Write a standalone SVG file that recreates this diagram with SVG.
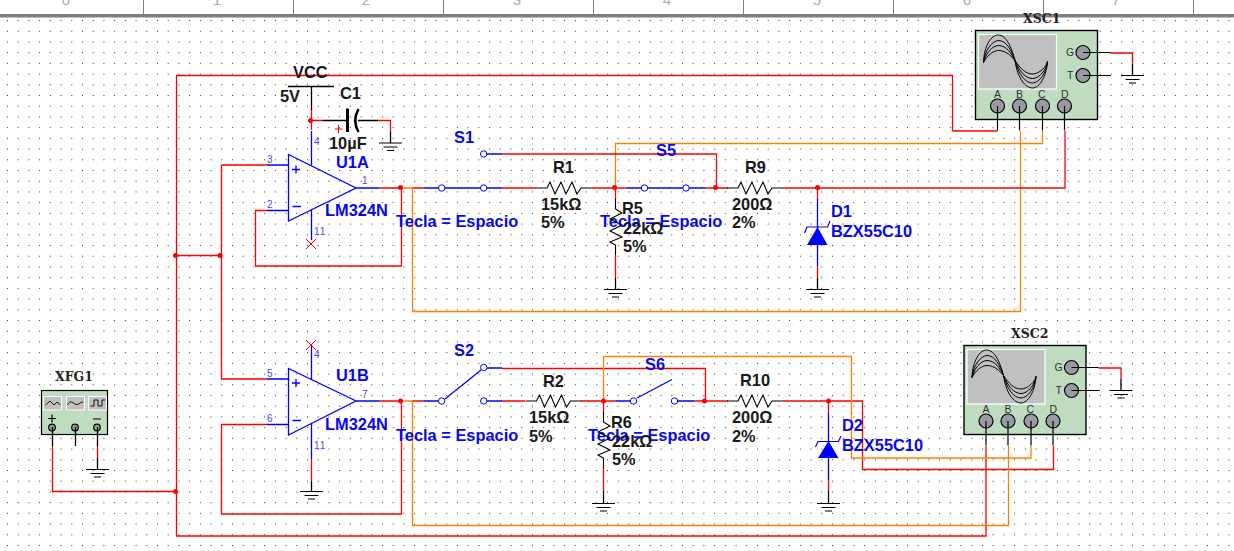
<svg xmlns="http://www.w3.org/2000/svg" width="1234" height="551" viewBox="0 0 1234 551">
<style>
.w{fill:none;stroke-width:1.3}
.r{stroke:#f00}.o{stroke:#ff8000}.k{stroke:#000}.b{stroke:#00f}
.l{font-family:"Liberation Sans",Arial,sans-serif;font-size:16.4px;font-weight:bold}
.kt{fill:#1a1a1a}.bt{fill:#0808f0}
.p{font-family:"Liberation Sans",Arial,sans-serif;font-size:10px;fill:#4a4af0}
.t{font-family:"Liberation Sans",Arial,sans-serif;font-size:10.5px;fill:#333}
.x{font-family:"DejaVu Serif",serif;font-size:12.5px;font-weight:bold;fill:#222}
.rul{font-family:"Liberation Sans",Arial,sans-serif;font-size:15px;fill:#aaa;text-anchor:middle}
.n{fill:#f00}
.tm{fill:#9a9aa2;stroke:#000;stroke-width:1.2}
</style>
<defs>
<pattern id="grid" x="7" y="9.3" width="10.714" height="10.714" patternUnits="userSpaceOnUse"><rect width="1" height="1" fill="#333"/></pattern>
<g id="gnd" fill="none" stroke="#000" stroke-width="1.2"><path d="M-11.500 0H11.500M-7 4H7M-3.500 7.500H3.500"/></g>
<path id="res" d="M0 0H11L14 -6L19 6L25 -6L30 6L36 -6L41 6L45 0H56" fill="none" stroke="#000" stroke-width="1.1"/>
<path id="resv" d="M0 0V10L6.500 14L-5.500 20L6.500 26L-5.500 32L6.500 38L-5.500 43L0 46V56" fill="none" stroke="#000" stroke-width="1.1"/>
<g id="scopeBody">
<rect x="0" y="0" width="122" height="89" fill="#c0dcc0" stroke="#000" stroke-width="1.400"/>
<rect x="3" y="4" width="78" height="54.500" fill="#c0c0c0" stroke="#fff" stroke-width="1.200"/>
<g fill="none" stroke="#000" stroke-width="1">
<path d="M8 32C8.500 15 16 4.500 22.500 4.500C31 4.500 36 17 39.500 30"/>
<path d="M8 32C9 20 17 10 23 10C31 10 36 20 39.500 30"/>
<path d="M8 32C10 23 17 15 23 15C31 15 36 23 39.500 30"/>
<path d="M8 32C11 26 17 20 23 20C31 20 36 26 39.500 30"/>
<path d="M39.500 30C42 48 50 57.500 57 57.500C64 57.500 71 46 72 31"/>
<path d="M39.500 30C43 44 50 52.500 57 52.500C64 52.500 71 42 72 31"/>
<path d="M39.500 30C44 41 50 48 57 48C64 48 71 39 72 31"/>
<path d="M39.500 30C45 38 50 43.500 57 43.500C64 43.500 71 36 72 31"/>
</g>
<circle class="tm" cx="22" cy="75.500" r="7"/><circle class="tm" cx="44" cy="75.500" r="7"/><circle class="tm" cx="67" cy="75.500" r="7"/><circle class="tm" cx="89" cy="75.500" r="7"/>
<circle class="tm" cx="107.500" cy="22" r="7"/><circle class="tm" cx="107.500" cy="45" r="7"/>
<path d="M22 75.500V100M44 75.500V100M67 75.500V100M89 75.500V100M107.500 22H134.500M107.500 45H135.500" stroke="#000" stroke-width="1.200" fill="none"/>
</g>
</defs>
<rect width="1234" height="551" fill="#fff"/>
<rect x="0" y="18" width="1234" height="533" fill="url(#grid)"/>

<g id="ruler">
<text class="rul" x="66" y="5">0</text><text class="rul" x="217" y="5">1</text><text class="rul" x="366" y="5">2</text><text class="rul" x="517" y="5">3</text><text class="rul" x="667" y="5">4</text><text class="rul" x="817" y="5">5</text><text class="rul" x="967" y="5">6</text><text class="rul" x="1116" y="5">7</text>
<rect x="0" y="14" width="1234" height="3.500" fill="#808080"/>
<path d="M143.500 0V14M293.500 0V14M443.500 0V14M593.500 0V14M743.500 0V14M893.500 0V14M1043.500 0V14M1193.500 0V14" stroke="#808080" stroke-width="1"/>
</g>

<g id="connectors">
<path class="w r" d="M952.500 131V75.500H176.500V536H986V446M952.500 131H997.500"/>
<path class="w r" d="M176 255.500H221M221.500 165V379H267M221.500 165H267"/>
<path class="w r" d="M52.500 446V491.500H176M97.500 446V458"/>
<path class="w r" d="M401.500 188V266H255.500V210.500H267"/>
<path class="w r" d="M379 188H402M412.500 188H424"/>
<path class="w o" d="M402 188H412.500V311.500H1020.500V131"/>
<path class="w o" d="M615.500 188V143.500H1042.500V131"/>
<path class="w r" d="M502 188H536M592 188H627M706 188H728M783 188H1065V131M502 154H716.500V188"/>
<path class="w r" d="M615.500 188V199M615.500 255V278M817.500 188V199M817.500 266V278"/>
<path class="w r" d="M311.500 110V130M311 120.500H323M378 120.500H390.500V132"/>
<path class="w r" d="M1110 53H1132.500V64M1098.500 368H1121V379"/>
<path class="w r" d="M379 401H402M412.500 401H424M502 401H525M581 401H615.500M694 401H728M783 401H862.500V469.500H1053.500V446M502 368.500H705.500V401"/>
<path class="w r" d="M267 424.500H221.500V514H401.500V401"/>
<path class="w r" d="M603.500 401V413M603.500 468V491M828.500 401V413M828.500 480V491M311.500 459V481"/>
<path class="w o" d="M402 401H412.500V525.500H1008.500V446"/>
<path class="w o" d="M603.500 401V356.500H851.500V458H1031V446"/>
<circle class="n" cx="175.500" cy="255.500" r="2.500"/><circle class="n" cx="220" cy="255.500" r="2.500"/><circle class="n" cx="175.500" cy="491.500" r="2.500"/>
<circle class="n" cx="310.500" cy="120.500" r="2.500"/><circle class="n" cx="400.500" cy="187.500" r="2.500"/><circle class="n" cx="400.500" cy="401" r="2.500"/>
<circle class="n" cx="614.500" cy="187.500" r="2.500"/><circle class="n" cx="715.500" cy="187.500" r="2.500"/><circle class="n" cx="817.500" cy="187.500" r="2.500"/>
<circle class="n" cx="603.500" cy="401" r="2.500"/><circle class="n" cx="704.500" cy="401" r="2.500"/><circle class="n" cx="828.500" cy="401" r="2.500"/>
</g>

<g id="VCC">
<path class="w k" d="M288 86.500H334M311.500 86.500V110"/>
<text class="l kt" x="293" y="78">VCC</text><text class="l kt" x="280" y="102">5V</text>
</g>
<g id="C1">
<path d="M323 120.500H346M358 120.500H378" class="w k"/>
<path d="M347.500 108.500V132" fill="none" stroke="#000" stroke-width="3"/>
<path d="M358.500 109Q352 120.500 358.500 132" fill="none" stroke="#000" stroke-width="2.500"/>
<path d="M335 129H342.500M338.500 125V133" stroke="#f00" stroke-width="1" fill="none"/>
<path d="M390.500 132V143" class="w k"/><use href="#gnd" x="390.500" y="143"/>
<text class="l kt" x="340" y="99">C1</text><text class="l kt" x="329" y="149">10µF</text>
</g>
<g id="U1A">
<path class="w b" d="M288.500 154.500V221L356 188ZM267 165H288.500M267 210.500H288.500M356 188H379M311.500 131V165M311.500 210V240M292 169.500H300M296 165.500V173.500M292.500 206.500H301"/>
<path d="M306 239L316 249M316 239L306 249" stroke="#f00" stroke-width="1" fill="none"/>
<text class="p" x="267" y="163">3</text><text class="p" x="267" y="208">2</text><text class="p" x="362" y="184">1</text><text class="p" x="314" y="145">4</text><text class="p" x="314" y="235" letter-spacing="1">11</text>
<text class="l bt" x="336" y="168">U1A</text><text class="l bt" x="325" y="216">LM324N</text>
</g>
<g id="U1B">
<path class="w b" d="M288.500 368.500V435L356 401ZM267 379H288.500M267 424.500H288.500M356 401H379M311.500 345V379M311.500 423V459M292 383H300M296 379V387M292.500 420.500H301"/>
<path d="M306 340L316 350M316 340L306 350" stroke="#f00" stroke-width="1" fill="none"/>
<path class="w k" d="M311.500 481V491"/><use href="#gnd" x="311.500" y="491.500"/>
<text class="p" x="267" y="377">5</text><text class="p" x="267" y="422">6</text><text class="p" x="362" y="398">7</text><text class="p" x="314" y="358">4</text><text class="p" x="314" y="449" letter-spacing="1">11</text>
<text class="l bt" x="336" y="381">U1B</text><text class="l bt" x="325" y="430">LM324N</text>
</g>
<g id="S1">
<path class="w b" d="M424 188H502M484 154H502"/>
<circle cx="441.700" cy="188" r="3.200" fill="#fff" stroke="#00f"/><circle cx="483.700" cy="188" r="3.200" fill="#fff" stroke="#00f"/><circle cx="483.700" cy="154" r="3.200" fill="#fff" stroke="#00f"/>
<text class="l bt" x="454" y="143">S1</text><text class="l bt" x="396" y="227">Tecla = Espacio</text>
</g>
<g id="R1"><use href="#res" x="536" y="188"/><text class="l kt" x="553" y="173">R1</text><text class="l kt" x="541" y="210">15kΩ</text><text class="l kt" x="541" y="228">5%</text></g>
<g id="S5">
<path class="w b" d="M627 188H706"/>
<circle cx="644.500" cy="188" r="3.200" fill="#fff" stroke="#00f"/><circle cx="686" cy="188" r="3.200" fill="#fff" stroke="#00f"/>
<text class="l bt" x="656" y="156">S5</text><text class="l bt" x="600" y="227">Tecla = Espacio</text>
</g>
<g id="R5"><use href="#resv" x="615.500" y="199"/><path class="w k" d="M615.500 278V289"/><use href="#gnd" x="615.500" y="289.500"/><text class="l kt" x="622" y="214">R5</text><text class="l kt" x="623" y="234">22kΩ</text><text class="l kt" x="623" y="252">5%</text></g>
<g id="R9"><use href="#res" x="727" y="188"/><text class="l kt" x="745" y="173">R9</text><text class="l kt" x="732" y="210">200Ω</text><text class="l kt" x="732" y="228">2%</text></g>
<g id="D1">
<path class="w b" d="M817.500 199V266"/><path d="M817.500 227L807 245H827.500Z" fill="#00f"/><path d="M804.500 233L807 227H827.500L830 221" stroke="#00f" stroke-width="1.200" fill="none"/>
<path class="w k" d="M817.500 278V289"/><use href="#gnd" x="817.500" y="289.500"/>
<text class="l bt" x="831" y="217">D1</text><text class="l bt" x="831" y="237">BZX55C10</text>
</g>
<g id="XSC1">
<use href="#scopeBody" x="975.500" y="30.500"/>
<path class="w k" d="M1132.500 64V75.500"/><use href="#gnd" x="1132.500" y="75.500"/>
<text class="x" x="1023" y="23">XSC1</text>
<text class="t" x="1066" y="56">G</text><text class="t" x="1067" y="79">T</text><text class="t" x="994" y="97.500">A</text><text class="t" x="1016" y="97.500">B</text><text class="t" x="1038" y="97.500">C</text><text class="t" x="1061" y="97.500">D</text>
</g>
<g id="XFG1">
<rect x="41.500" y="390.500" width="66" height="44" fill="#c0dcc0" stroke="#000" stroke-width="1.200"/>
<g fill="#c0c0c0" stroke="#fff" stroke-width="1"><rect x="43.500" y="396.500" width="18" height="13.500"/><rect x="66.500" y="396.500" width="18" height="13.500"/><rect x="88.500" y="396.500" width="18" height="13.500"/></g>
<g fill="none" stroke="#000" stroke-width="0.900"><path d="M45.500 405L50 401L54 405L57 402L60.500 405"/><path d="M67.500 405C70 400 72 402 75 404C78 406 80 402 83 402"/><path d="M90.500 406H94V400H98V406H102V400H105"/></g>
<path d="M48 418.500H56M52 414.500V422.500M93 419H101" stroke="#000" stroke-width="1.200" fill="none"/>
<circle class="tm" cx="52" cy="427.500" r="3.300"/><circle class="tm" cx="75" cy="427.500" r="3.300"/><circle class="tm" cx="97" cy="427.500" r="3.300"/>
<path d="M52.500 427V446M75.500 427V446M97.500 427V446M97.500 458V469" class="w k"/>
<use href="#gnd" x="97.500" y="469.500"/>
<text class="x" x="55" y="381">XFG1</text>
</g>
<g id="S2">
<path class="w b" d="M424 401H438M487 401H502M487 368H502M445 399L481 370"/>
<circle cx="441.700" cy="401" r="3.200" fill="#fff" stroke="#00f"/><circle cx="483.700" cy="401" r="3.200" fill="#fff" stroke="#00f"/><circle cx="483.700" cy="367.500" r="3.200" fill="#fff" stroke="#00f"/>
<text class="l bt" x="454" y="356">S2</text><text class="l bt" x="396" y="441">Tecla = Espacio</text>
</g>
<g id="R2"><use href="#res" x="525.500" y="401"/><text class="l kt" x="543" y="387">R2</text><text class="l kt" x="529" y="423">15kΩ</text><text class="l kt" x="529" y="442">5%</text></g>
<g id="S6">
<path class="w b" d="M615.500 401H630M678 401H694M637 398L672 379.500"/>
<circle cx="633.500" cy="401" r="3.200" fill="#fff" stroke="#00f"/><circle cx="674.500" cy="401" r="3.200" fill="#fff" stroke="#00f"/>
<text class="l bt" x="645" y="370">S6</text><text class="l bt" x="588" y="441">Tecla = Espacio</text>
</g>
<g id="R6"><use href="#resv" x="603.500" y="412"/><path class="w k" d="M603.500 491V503"/><use href="#gnd" x="603.500" y="503.500"/><text class="l kt" x="611" y="428">R6</text><text class="l kt" x="612" y="447">22kΩ</text><text class="l kt" x="612" y="465">5%</text></g>
<g id="R10"><use href="#res" x="727" y="401"/><text class="l kt" x="740" y="386">R10</text><text class="l kt" x="732" y="423">200Ω</text><text class="l kt" x="732" y="442">2%</text></g>
<g id="D2">
<path class="w b" d="M828.500 413V480"/><path d="M828.500 441L818 458H838.500Z" fill="#00f"/><path d="M815.500 447L818 441.500H838.500L841 436" stroke="#00f" stroke-width="1.200" fill="none"/>
<path class="w k" d="M828.500 491V503"/><use href="#gnd" x="828.500" y="503.500"/>
<text class="l bt" x="842" y="431">D2</text><text class="l bt" x="842" y="451">BZX55C10</text>
</g>
<g id="XSC2">
<use href="#scopeBody" x="964" y="345.500"/>
<path class="w k" d="M1121 379V390.500"/><use href="#gnd" x="1121" y="390.500"/>
<text class="x" x="1011" y="338">XSC2</text>
<text class="t" x="1054.500" y="371">G</text><text class="t" x="1055.500" y="394">T</text><text class="t" x="982.500" y="412.500">A</text><text class="t" x="1004.500" y="412.500">B</text><text class="t" x="1026.500" y="412.500">C</text><text class="t" x="1049.500" y="412.500">D</text>
</g>
</svg>
